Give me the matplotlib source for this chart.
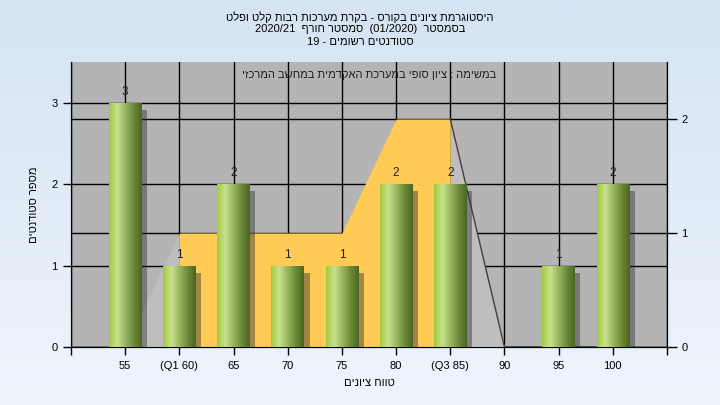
import numpy as np
import matplotlib
matplotlib.use("Agg")
import matplotlib.pyplot as plt
import matplotlib.patheffects as pe
from matplotlib.colors import LinearSegmentedColormap

plt.rcParams["font.family"] = ["Liberation Sans", "DejaVu Sans"]
plt.rcParams["font.size"] = 8

# data
categories = ["55", "(Q1 60)", "65", "70", "75", "80", "(Q3 85)", "90", "95", "100"]
counts = [3, 1, 2, 1, 1, 2, 2, 0, 1, 2]
band = [0, 1, 1, 1, 1, 2, 2, 0, 0, 0]
q1_idx = 1
q3_idx = 6

title_lines = [
    "היסטוגרמת ציונים בקורס - בקרת מערכות רבות קלט ופלט",
    "בסמסטר  (01/2020)  סמסטר חורף  2020/21",
    "סטודנטים רשומים - 19",
]
note = "במשימה : ציון סופי במערכת האקדמית במחשב המרכזי"
x_title = "טווח ציונים"
y_title = "מספר סטודנטים"


def vis(s):
    # matplotlib lays text out left to right: put hebrew words in visual order
    out = []
    for tok in s.split(" ")[::-1]:
        if any("\u0590" <= c <= "\u05ff" for c in tok):
            tok = tok[::-1]
        out.append(tok)
    return " ".join(out)


fig = plt.figure(figsize=(7.2, 4.05), dpi=100)

# background gradient
bg = fig.add_axes([0, 0, 1, 1], zorder=-10)
grad = np.linspace(0, 1, 256).reshape(-1, 1)
bg_cmap = LinearSegmentedColormap.from_list("bg", ["#d5e3f3", "#eef5fd"])
bg.imshow(grad, aspect="auto", cmap=bg_cmap, extent=[0, 1, 0, 1], origin="upper")
bg.axis("off")

x = np.arange(len(categories))

ax = fig.add_axes([71 / 720, 1 - 347 / 405, 596 / 720, 285 / 405])
ax.set_facecolor("#b4b4b4")
ax.set_xlim(-1, len(categories))
ax.set_ylim(0, 3.5)
ax.set_yticks([0, 1, 2, 3])
ax.set_xticks(np.arange(-1, len(categories) + 1))
ax.set_xticklabels([""] + categories + [""])
ax.grid(True, color="black", linewidth=1)
ax.set_axisbelow(True)
ax.spines["top"].set_visible(False)
ax.tick_params(axis="both", direction="out", length=6, width=1, colors="black")
ax.tick_params(axis="x", pad=4)
ax.set_xlabel(vis(x_title), labelpad=5)
ax.set_ylabel(vis(y_title), labelpad=9)

# area band on the right axis
ax2 = ax.twinx()
ax2.set_ylim(0, 2.5)
ax2.set_yticks([0, 1, 2])
ax2.grid(True, axis="y", color="black", linewidth=1)
ax2.set_axisbelow(True)
ax2.spines["top"].set_visible(False)
ax2.tick_params(axis="y", direction="out", length=7, width=1)
ax2.fill_between(x[:q1_idx + 1], band[:q1_idx + 1], color="#bebebe", lw=0, zorder=1)
ax2.fill_between(x[q3_idx:], band[q3_idx:], color="#bebebe", lw=0, zorder=1)
ax2.fill_between(x[q1_idx:q3_idx + 1], band[q1_idx:q3_idx + 1], color="#ffcb55", lw=0, zorder=1)
ax2.plot(x[q3_idx:], band[q3_idx:], color="#404040", lw=1, zorder=2, clip_on=False)

# bars on top
ax3 = ax.twinx()
ax3.set_ylim(0, 3.5)
ax3.axis("off")
bars = ax3.bar(x, counts, width=0.6, color="#8fb048", zorder=3,
               path_effects=[pe.SimplePatchShadow(offset=(4, -5), shadow_rgbFace="#303030", alpha=0.45),
                             pe.Normal()])
bar_cmap = LinearSegmentedColormap.from_list(
    "bar", ["#a2ca3e", "#c9e18c", "#9ab660", "#6c8a38", "#4a6622"])
gx = np.linspace(0, 1, 128).reshape(1, -1)
for b in bars:
    if b.get_height() == 0:
        continue
    im = ax3.imshow(gx, cmap=bar_cmap, aspect="auto", zorder=4,
                    extent=[b.get_x(), b.get_x() + b.get_width(), 0, b.get_height()])
    im.set_clip_path(b)
ax3.set_xlim(-1, len(categories))
ax3.set_ylim(0, 3.5)
for b, c in zip(bars, counts):
    if c > 0:
        ax3.text(b.get_x() + b.get_width() / 2, c + 0.06, str(c), ha="center", va="bottom",
                 fontsize=8.5, color="#202020", zorder=5)

ax.text(0.5, 0.955, vis(note), transform=ax.transAxes, ha="center", va="center",
        fontsize=8, color="#202020", zorder=6)

fig.text(0.5, 1 - 17 / 405, vis(title_lines[0]), ha="center", va="center", fontsize=8)
fig.text(0.5, 1 - 29 / 405, vis(title_lines[1]), ha="center", va="center", fontsize=8)
fig.text(0.5, 1 - 42 / 405, vis(title_lines[2]), ha="center", va="center", fontsize=8)

fig.savefig("out.png", dpi=100)
